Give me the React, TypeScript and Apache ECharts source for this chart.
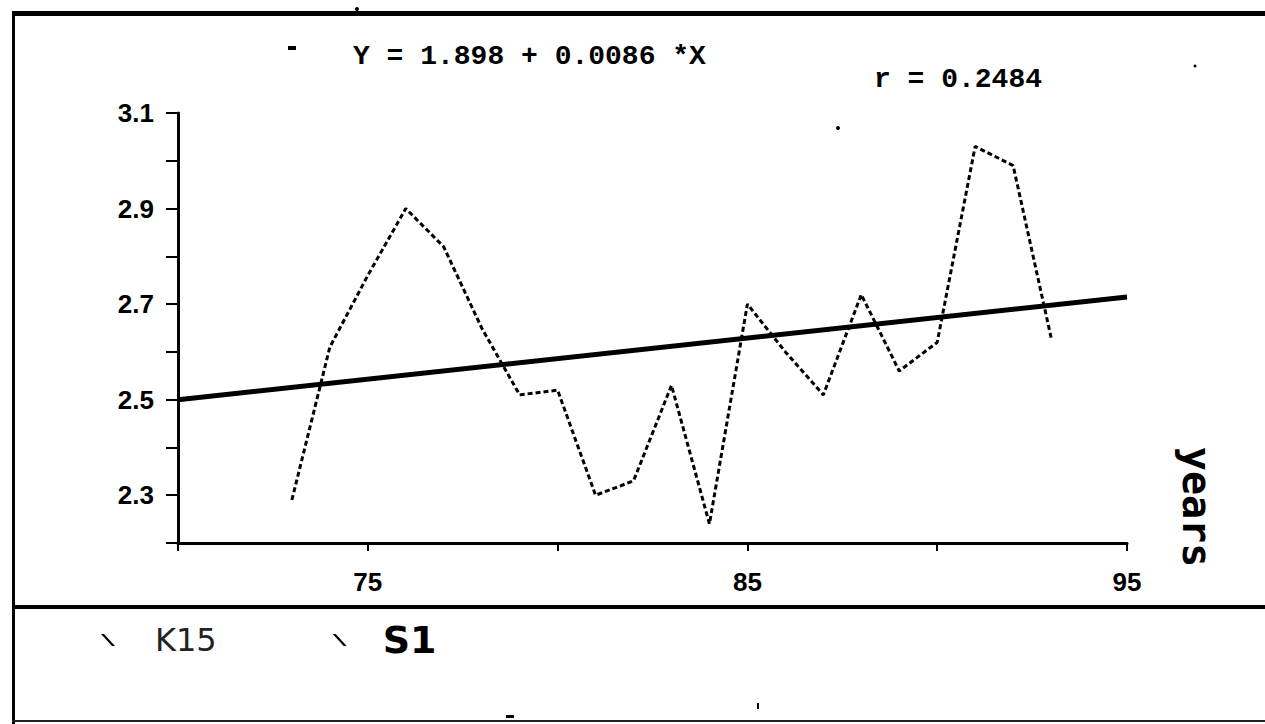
import { useEffect, useRef } from "react";
import * as echarts from "echarts";

// Data (years 73..93 and the K15 values)
const years = [73, 74, 75, 76, 77, 78, 79, 80, 81, 82, 83, 84, 85, 86, 87, 88, 89, 90, 91, 92, 93];
const k15Values = [2.29, 2.61, 2.76, 2.9, 2.82, 2.65, 2.51, 2.52, 2.3, 2.33, 2.53, 2.24, 2.7, 2.6, 2.51, 2.72, 2.56, 2.62, 3.03, 2.99, 2.63];

// Regression stated on the chart
const intercept = 1.898;
const slope = 0.0086;
const rValue = 0.2484;
const fitRange = [70, 95];

// Tick labels shown
const xTickLabels = [75, 85, 95];
const yTickLabels = ["2.3", "2.5", "2.7", "2.9", "3.1"];
const seriesNames = ["K15", "S1"];
const axisName = "years";

export default function App() {
  const ref = useRef<HTMLDivElement>(null);

  useEffect(() => {
    const chart = echarts.init(ref.current!, null, { renderer: "svg" });
    const k15Data = years.map((y, i) => [y, k15Values[i]]);
    const fitData = fitRange.map((x) => [x, +(intercept + slope * x).toFixed(4)]);

    chart.setOption({
      animation: false,
      backgroundColor: "#ffffff",
      title: [
        {
          text: `Y = ${intercept} + ${slope} *X`,
          left: 353,
          top: 42,
          padding: 0,
          textStyle: { fontFamily: "Liberation Mono", fontWeight: "bold", fontSize: 28, color: "#000" },
        },
        {
          text: `r = ${rValue}`,
          left: 874,
          top: 65,
          padding: 0,
          textStyle: { fontFamily: "Liberation Mono", fontWeight: "bold", fontSize: 28, color: "#000" },
        },
      ],
      grid: { left: 178, right: 138, top: 113, bottom: 181, containLabel: false },
      xAxis: {
        type: "value",
        min: 70,
        max: 95,
        interval: 5,
        axisLine: { show: true, lineStyle: { color: "#000", width: 3 } },
        axisTick: { show: true, length: 8, lineStyle: { color: "#000", width: 2 } },
        splitLine: { show: false },
        axisLabel: {
          margin: 26,
          fontFamily: "Liberation Sans",
          fontWeight: "bold",
          fontSize: 26,
          color: "#000",
          formatter: (v: number) => (xTickLabels.includes(Math.round(v)) ? String(Math.round(v)) : ""),
        },
      },
      yAxis: {
        type: "value",
        min: 2.2,
        max: 3.1,
        interval: 0.1,
        axisLine: { show: true, lineStyle: { color: "#000", width: 3 } },
        axisTick: { show: true, length: 12, lineStyle: { color: "#000", width: 2 } },
        splitLine: { show: false },
        axisLabel: {
          margin: 24,
          fontFamily: "Liberation Sans",
          fontWeight: "bold",
          fontSize: 26,
          color: "#000",
          formatter: (v: number) => {
            const s = v.toFixed(1);
            return yTickLabels.includes(s) ? s : "";
          },
        },
      },
      legend: {
        left: 96,
        top: 616,
        itemWidth: 14,
        itemHeight: 12,
        itemGap: 116,
        icon: "path://M0,0 L3,0 L14,12 L11,12 Z",
        selectedMode: false,
        data: [
          {
            name: seriesNames[0],
            textStyle: { fontFamily: "DejaVu Sans", fontSize: 32, color: "#222", padding: [0, 0, 0, 35] },
          },
          {
            name: seriesNames[1],
            textStyle: { fontFamily: "DejaVu Sans", fontWeight: "bold", fontSize: 38, color: "#000", padding: [0, 0, 0, 31] },
          },
        ],
      },
      series: [
        {
          name: seriesNames[0],
          type: "line",
          data: k15Data,
          symbol: "none",
          itemStyle: { color: "#000" },
          lineStyle: { color: "#000", width: 3, type: [5, 3] },
        },
        {
          name: seriesNames[1],
          type: "line",
          data: fitData,
          symbol: "none",
          itemStyle: { color: "#000" },
          lineStyle: { color: "#000", width: 5 },
        },
      ],
      graphic: [
        { type: "rect", shape: { x: 12, y: 11, width: 1253, height: 5 }, style: { fill: "#000" } },
        { type: "rect", shape: { x: 12, y: 11, width: 3, height: 713 }, style: { fill: "#000" } },
        { type: "rect", shape: { x: 12, y: 605, width: 1253, height: 4 }, style: { fill: "#000" } },
        { type: "rect", shape: { x: 12, y: 720, width: 1253, height: 2 }, style: { fill: "#222" } },
        {
          type: "text",
          x: 1197,
          y: 507,
          rotation: -Math.PI / 2,
          style: {
            text: axisName,
            fontFamily: "DejaVu Sans Mono",
            fontWeight: "bold",
            fontSize: 40,
            fill: "#000",
            align: "center",
            verticalAlign: "middle",
          },
        },
        { type: "rect", shape: { x: 288, y: 46, width: 8, height: 4 }, style: { fill: "#000" } },
        { type: "circle", shape: { cx: 357, cy: 9, r: 2 }, style: { fill: "#000" } },
        { type: "circle", shape: { cx: 838, cy: 128, r: 2 }, style: { fill: "#000" } },
        { type: "circle", shape: { cx: 1195, cy: 66, r: 1.5 }, style: { fill: "#000" } },
        { type: "rect", shape: { x: 506, y: 715, width: 8, height: 3 }, style: { fill: "#000" } },
        { type: "rect", shape: { x: 757, y: 703, width: 2, height: 6 }, style: { fill: "#000" } },
      ],
    });

    return () => chart.dispose();
  }, []);

  return (
    <div
      ref={ref}
      style={{ position: "absolute", left: 0, top: 0, width: 1265, height: 724, background: "#fff" }}
    />
  );
}
